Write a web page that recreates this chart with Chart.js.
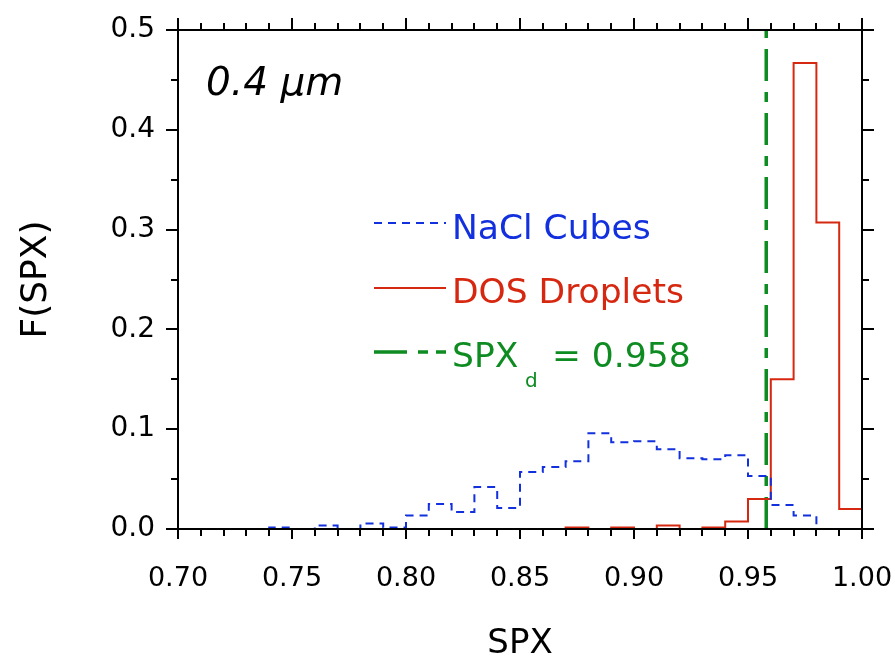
<!DOCTYPE html>
<html>
<head>
<meta charset="utf-8">
<script src="https://cdn.jsdelivr.net/npm/chart.js@4.4.1/dist/chart.umd.min.js"></script>
<style>
  html, body { margin: 0; padding: 0; background: #fff; }
  #wrap { width: 895px; height: 666px; }
</style>
</head>
<body>
<div id="wrap"><canvas id="spxChart" width="895" height="666"></canvas></div>
<script>
// histogram bins: left edge of each 0.01-wide bin and its fraction
const naclEdges = [0.74, 0.75, 0.76, 0.77, 0.78, 0.79, 0.80, 0.81, 0.82, 0.83, 0.84, 0.85,
                   0.86, 0.87, 0.88, 0.89, 0.90, 0.91, 0.92, 0.93, 0.94, 0.95, 0.96, 0.97];
const naclFrac  = [0.0015, 0, 0.0036, 0, 0.0055, 0.0015, 0.0135, 0.025, 0.017, 0.042, 0.021, 0.057,
                   0.062, 0.068, 0.096, 0.087, 0.088, 0.080, 0.071, 0.070, 0.074, 0.053, 0.024, 0.0135];
const naclEnd = 0.98;

const dosEdges = [0.87, 0.88, 0.89, 0.90, 0.91, 0.92, 0.93, 0.94, 0.95, 0.96, 0.97, 0.98, 0.99];
const dosFrac  = [0.0015, 0, 0.0015, 0, 0.0035, 0, 0.0015, 0.0075, 0.030, 0.150, 0.467, 0.307, 0.020];
const dosEnd = 1.00;

const spxD = 0.958;
const xTicks = [0.70, 0.75, 0.80, 0.85, 0.90, 0.95, 1.00];
const yTicks = [0.0, 0.1, 0.2, 0.3, 0.4, 0.5];

const FONT = "'DejaVu Sans', 'Noto Sans', sans-serif";
const BLUE = 'rgb(18, 48, 222)';
const RED = 'rgb(214, 40, 16)';
const GREEN = 'rgb(14, 140, 34)';

// outline of a histogram: rise at each left edge, run to the next edge
function steps(edges, vals, end, closeToZero) {
  const pts = [{ x: edges[0], y: 0 }];
  edges.forEach((e, i) => {
    const right = i + 1 < edges.length ? edges[i + 1] : end;
    pts.push({ x: e, y: vals[i] });
    pts.push({ x: right, y: vals[i] });
  });
  if (closeToZero) pts.push({ x: end, y: 0 });
  return pts;
}

// frame with ticks on all four sides, drawn over the data
const frame = {
  id: 'frame',
  afterDatasetsDraw(chart) {
    const { ctx, chartArea: a, scales: { x, y } } = chart;
    ctx.save();
    ctx.strokeStyle = '#000';
    ctx.lineWidth = 2;
    ctx.strokeRect(a.left, a.top, a.right - a.left, a.bottom - a.top);
    ctx.beginPath();
    for (let i = 0; i <= 30; i++) {
      const px = Math.round(x.getPixelForValue(0.70 + i * 0.01));
      const major = i % 5 === 0;
      ctx.moveTo(px, a.bottom); ctx.lineTo(px, a.bottom + (major ? 10 : 7));
      ctx.moveTo(px, a.top); ctx.lineTo(px, a.top - (major ? 12 : 7));
    }
    for (let j = 0; j <= 10; j++) {
      const py = Math.round(y.getPixelForValue(j * 0.05));
      const major = j % 2 === 0;
      ctx.moveTo(a.left, py); ctx.lineTo(a.left - (major ? 12 : 7), py);
      ctx.moveTo(a.right, py); ctx.lineTo(a.right + (major ? 12 : 7), py);
    }
    ctx.stroke();
    ctx.restore();
  }
};

// in-plot legend and size label
const notes = {
  id: 'notes',
  afterDraw(chart) {
    const { ctx } = chart;
    ctx.save();
    ctx.textBaseline = 'alphabetic';
    ctx.textAlign = 'left';

    ctx.fillStyle = '#000';
    ctx.font = 'oblique 39px ' + FONT;
    ctx.fillText('0.4 \u03bcm', 206, 95);

    function sample(y0, color, width, dash) {
      ctx.beginPath();
      ctx.strokeStyle = color;
      ctx.lineWidth = width;
      ctx.setLineDash(dash);
      ctx.moveTo(374, y0); ctx.lineTo(446, y0);
      ctx.stroke();
      ctx.setLineDash([]);
    }
    sample(223, BLUE, 2, [8, 6]);
    sample(288, RED, 2, []);
    sample(352, GREEN, 3.5, [33, 11, 10, 8]);

    ctx.font = '34.5px ' + FONT;
    ctx.fillStyle = BLUE;
    ctx.fillText('NaCl Cubes', 452, 239);
    ctx.fillStyle = RED;
    ctx.fillText('DOS Droplets', 452, 303);
    ctx.fillStyle = GREEN;
    ctx.fillText('SPX', 452, 367);
    ctx.fillText('= ' + spxD.toFixed(3), 552, 367);
    ctx.font = '20px ' + FONT;
    ctx.fillText('d', 525, 387);
    ctx.restore();
  }
};

new Chart(document.getElementById('spxChart'), {
  type: 'line',
  data: {
    datasets: [
      {
        label: 'NaCl Cubes',
        data: steps(naclEdges, naclFrac, naclEnd, true),
        borderColor: BLUE,
        borderWidth: 2,
        borderDash: [8, 6],
        pointRadius: 0,
        tension: 0,
        fill: false
      },
      {
        label: 'DOS Droplets',
        data: steps(dosEdges, dosFrac, dosEnd, false),
        borderColor: RED,
        borderWidth: 2,
        pointRadius: 0,
        tension: 0,
        fill: false
      },
      {
        label: 'SPXd',
        data: [{ x: spxD, y: 0 }, { x: spxD, y: 0.5 }],
        borderColor: GREEN,
        borderWidth: 3.5,
        borderDash: [32, 11, 10, 11],
        pointRadius: 0,
        fill: false
      }
    ]
  },
  options: {
    responsive: false,
    animation: false,
    layout: { padding: { top: 30, right: 33, left: 0, bottom: 0 } },
    plugins: {
      legend: { display: false },
      tooltip: { enabled: false }
    },
    scales: {
      x: {
        type: 'linear',
        min: 0.70,
        max: 1.00,
        afterFit: s => { s.height = 137; s.paddingLeft = 0; s.paddingRight = 0; },
        afterBuildTicks: s => { s.ticks = xTicks.map(v => ({ value: v })); },
        grid: { display: false },
        border: { display: false },
        ticks: {
          padding: 26,
          color: '#000',
          font: { family: FONT, size: 27 },
          callback: v => v.toFixed(2)
        },
        title: {
          display: true,
          text: 'SPX',
          color: '#000',
          font: { family: FONT, size: 34 },
          padding: { top: 0, bottom: 1 }
        }
      },
      y: {
        min: 0,
        max: 0.5,
        afterFit: s => { s.width = 178; s.paddingTop = 0; s.paddingBottom = 0; },
        afterBuildTicks: s => { s.ticks = yTicks.map(v => ({ value: v })); },
        grid: { display: false },
        border: { display: false },
        ticks: {
          padding: 15,
          color: '#000',
          font: { family: FONT, size: 28 },
          callback: v => v.toFixed(1)
        },
        title: {
          display: true,
          text: 'F(SPX)',
          color: '#000',
          font: { family: FONT, size: 36 },
          padding: { top: 15, bottom: 0 }
        }
      }
    }
  },
  plugins: [frame, notes]
});
</script>
</body>
</html>
